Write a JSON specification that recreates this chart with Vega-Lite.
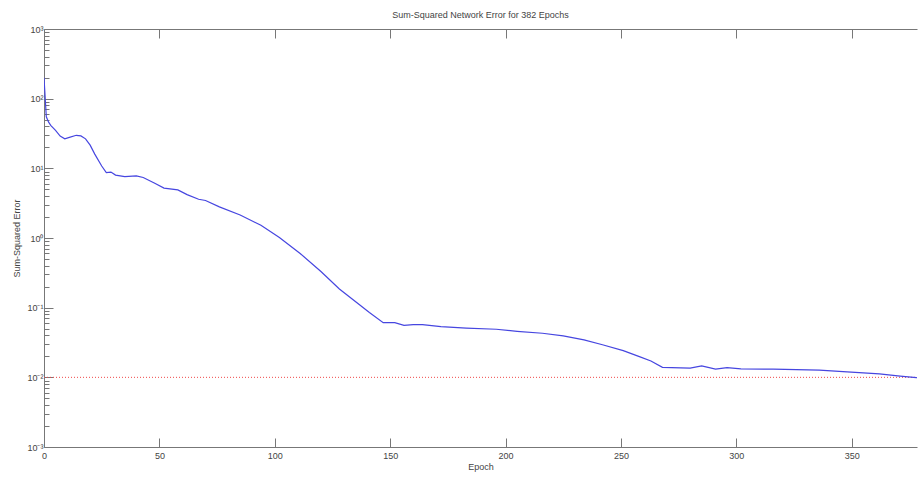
{
  "$schema": "https://vega.github.io/schema/vega-lite/v6.json",
  "autosize": "none",
  "width": 873,
  "height": 418,
  "padding": {"left": 44, "top": 29, "right": 1, "bottom": 30},
  "background": "white",
  "config": {
    "view": {"stroke": null},
    "font": "Liberation Sans",
    "axis": {
      "domainColor": "#777777",
      "tickColor": "#777777",
      "labelColor": "#444444",
      "titleColor": "#444444",
      "labelFont": "Liberation Sans",
      "titleFont": "Liberation Sans",
      "labelFontSize": 9,
      "titleFontSize": 9,
      "titleFontWeight": "normal",
      "grid": false,
      "labelOverlap": false,
      "labelBound": false,
      "labelFlush": false
    }
  },
  "title": {
    "text": "Sum-Squared Network Error for 382 Epochs",
    "fontSize": 9,
    "fontWeight": "normal",
    "font": "Liberation Sans",
    "color": "#444444",
    "anchor": "middle",
    "offset": 5
  },
  "datasets": {
    "err": [
      {"epoch": 0, "sse": 200},
      {"epoch": 1, "sse": 55},
      {"epoch": 2, "sse": 46},
      {"epoch": 3, "sse": 41},
      {"epoch": 5, "sse": 35},
      {"epoch": 7, "sse": 29},
      {"epoch": 9, "sse": 26.6},
      {"epoch": 11, "sse": 27.8},
      {"epoch": 14, "sse": 29.8},
      {"epoch": 16, "sse": 29.2},
      {"epoch": 18, "sse": 26.5},
      {"epoch": 20, "sse": 21.5},
      {"epoch": 22, "sse": 16},
      {"epoch": 25, "sse": 10.8},
      {"epoch": 27, "sse": 8.7},
      {"epoch": 29, "sse": 8.85},
      {"epoch": 31, "sse": 8.0},
      {"epoch": 35, "sse": 7.6},
      {"epoch": 40, "sse": 7.8},
      {"epoch": 43, "sse": 7.4},
      {"epoch": 48, "sse": 6.1},
      {"epoch": 52, "sse": 5.2},
      {"epoch": 58, "sse": 4.9},
      {"epoch": 62, "sse": 4.2},
      {"epoch": 67, "sse": 3.6},
      {"epoch": 70, "sse": 3.45},
      {"epoch": 76, "sse": 2.8},
      {"epoch": 85, "sse": 2.14},
      {"epoch": 94, "sse": 1.52},
      {"epoch": 102, "sse": 1.02},
      {"epoch": 111, "sse": 0.6},
      {"epoch": 120, "sse": 0.33},
      {"epoch": 128, "sse": 0.185},
      {"epoch": 137, "sse": 0.108},
      {"epoch": 141, "sse": 0.085},
      {"epoch": 147, "sse": 0.061},
      {"epoch": 152, "sse": 0.061},
      {"epoch": 156, "sse": 0.0558},
      {"epoch": 160, "sse": 0.057},
      {"epoch": 164, "sse": 0.057},
      {"epoch": 172, "sse": 0.0533},
      {"epoch": 183, "sse": 0.051},
      {"epoch": 196, "sse": 0.049},
      {"epoch": 205, "sse": 0.0458},
      {"epoch": 216, "sse": 0.0429},
      {"epoch": 225, "sse": 0.0393},
      {"epoch": 234, "sse": 0.0344},
      {"epoch": 242, "sse": 0.0294},
      {"epoch": 251, "sse": 0.0242},
      {"epoch": 258, "sse": 0.0198},
      {"epoch": 263, "sse": 0.0172},
      {"epoch": 268, "sse": 0.0139},
      {"epoch": 280, "sse": 0.0136},
      {"epoch": 285, "sse": 0.0146},
      {"epoch": 291, "sse": 0.0131},
      {"epoch": 296, "sse": 0.0138},
      {"epoch": 302, "sse": 0.0132},
      {"epoch": 316, "sse": 0.0131},
      {"epoch": 336, "sse": 0.0127},
      {"epoch": 348, "sse": 0.012},
      {"epoch": 362, "sse": 0.0112},
      {"epoch": 371, "sse": 0.0104},
      {"epoch": 378, "sse": 0.0099},
      {"epoch": 382, "sse": 0.0095}
    ],
    "goal": [
      {"start": 0, "end": 382, "goal": 0.01}
    ]
  },
  "resolve": {"axis": {"x": "independent", "y": "independent"}},
  "layer": [
    {
      "data": {"name": "goal"},
      "mark": {"type": "rule", "color": "#f04848", "strokeDash": [1, 2], "strokeWidth": 1, "clip": true},
      "encoding": {
        "x": {
          "field": "start", "type": "quantitative",
          "scale": {"domain": [0, 378.3], "nice": false, "zero": false},
          "axis": {
            "orient": "top", "title": null, "labels": false,
            "values": [0, 50, 100, 150, 200, 250, 300, 350],
            "tickSize": -9, "domain": true
          }
        },
        "x2": {"field": "end"},
        "y": {
          "field": "goal", "type": "quantitative",
          "scale": {"type": "log", "domain": [0.001, 1000], "nice": false},
          "axis": null
        }
      }
    },
    {
      "data": {"name": "err"},
      "mark": {"type": "line", "color": "#4646e0", "strokeWidth": 1.2, "clip": true},
      "encoding": {
        "x": {
          "field": "epoch", "type": "quantitative",
          "scale": {"domain": [0, 378.3], "nice": false, "zero": false},
          "axis": {
            "orient": "bottom", "title": "Epoch",
            "values": [0, 50, 100, 150, 200, 250, 300, 350],
            "tickSize": -9, "labelPadding": 13, "titlePadding": 2
          }
        },
        "y": {
          "field": "sse", "type": "quantitative",
          "scale": {"type": "log", "domain": [0.001, 1000], "nice": false},
          "axis": {
            "orient": "left", "title": "Sum-Squared Error",
            "values": [0.001, 0.002, 0.003, 0.004, 0.005, 0.006, 0.007, 0.008, 0.009,
                       0.01, 0.02, 0.03, 0.04, 0.05, 0.06, 0.07, 0.08, 0.09,
                       0.1, 0.2, 0.3, 0.4, 0.5, 0.6, 0.7, 0.8, 0.9,
                       1, 2, 3, 4, 5, 6, 7, 8, 9,
                       10, 20, 30, 40, 50, 60, 70, 80, 90,
                       100, 200, 300, 400, 500, 600, 700, 800, 900, 1000],
            "labelExpr": "datum.value == 1000 ? '10³' : datum.value == 100 ? '10²' : datum.value == 10 ? '10¹' : datum.value == 1 ? '10⁰' : datum.value == 0.1 ? '10⁻¹' : datum.value == 0.01 ? '10⁻²' : datum.value == 0.001 ? '10⁻³' : ''",
            "tickSize": {"condition": {"test": "indexof([1000,100,10,1,0.1,0.01,0.001], datum.value) >= 0", "value": -9}, "value": -5},
            "labelPadding": 10,
            "titlePadding": 5
          }
        }
      }
    }
  ]
}
